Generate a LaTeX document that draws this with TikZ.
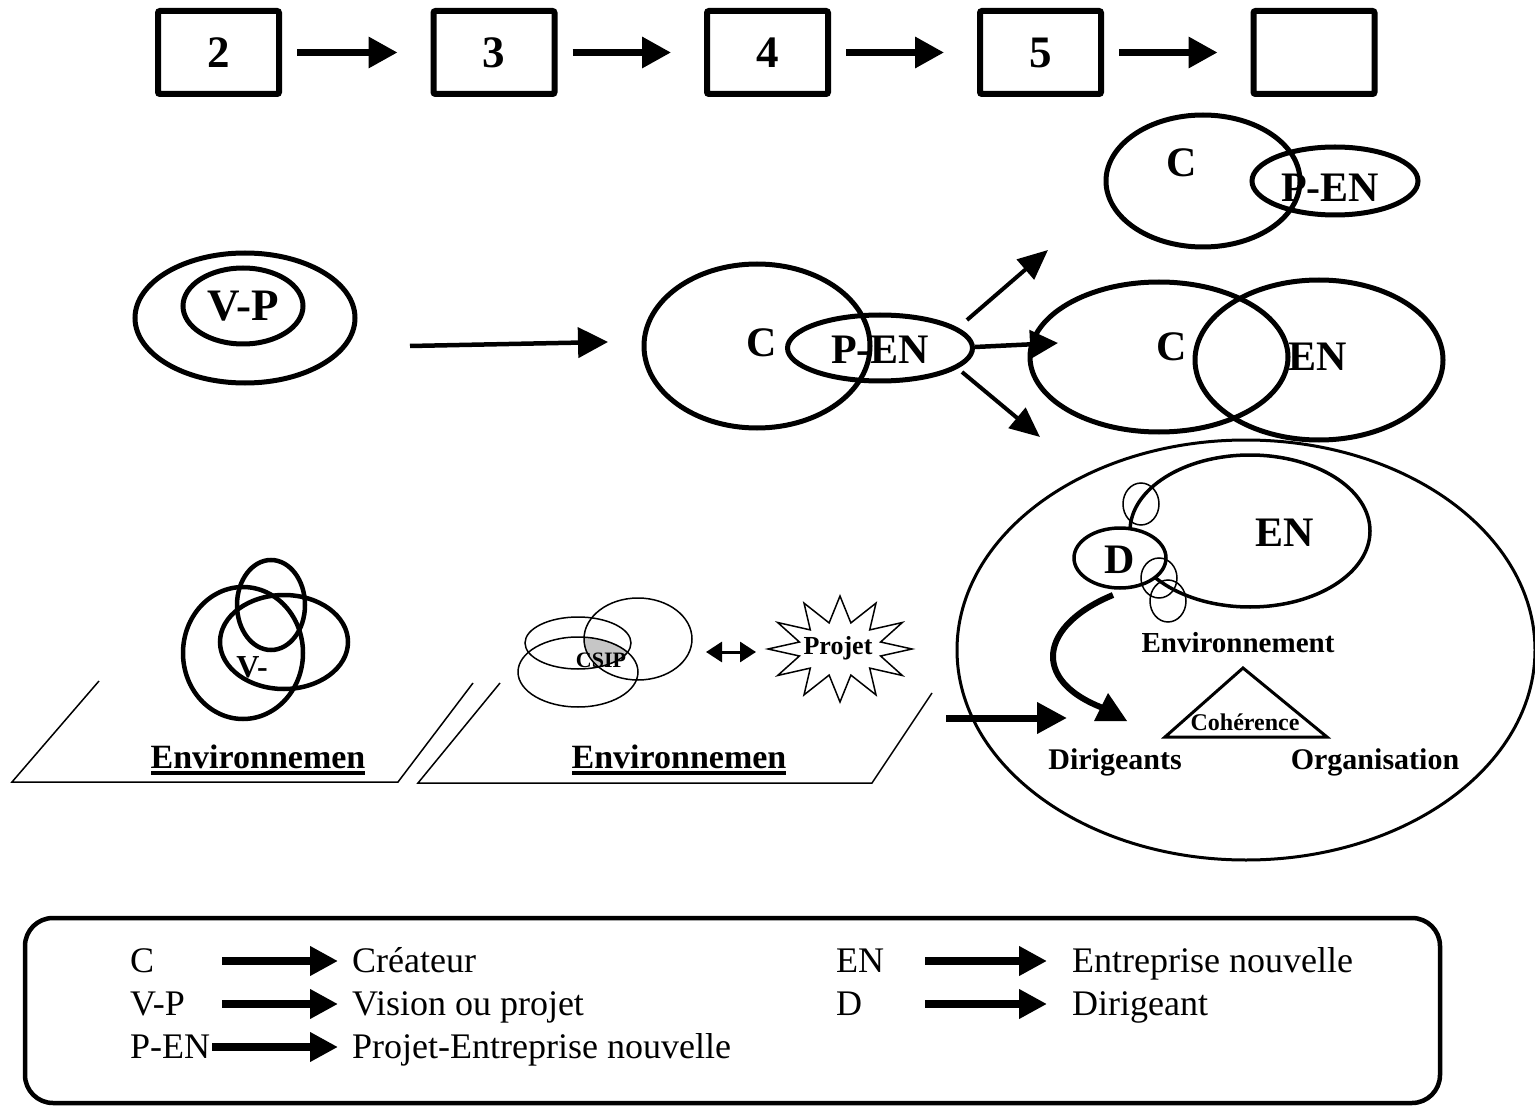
\documentclass[tikz,border=0pt]{standalone}
\usepackage{fontspec}
\setmainfont{Liberation Serif}
\usetikzlibrary{shapes.geometric,arrows.meta}
\begin{document}
\begin{tikzpicture}[x=1pt,y=-1pt,
  numbox/.style={draw,line width=6pt,rounded corners=2pt,minimum width=121pt,minimum height=83pt,inner sep=0pt,font=\fontsize{45}{45}\selectfont\bfseries},
  toparrow/.style={line width=6.5pt,-{Triangle[length=29pt,width=30pt]}},
  midarrow/.style={line width=4.5pt,-{Triangle[length=30pt,width=30pt]}},
  ovl/.style={draw,ellipse,line width=5pt,inner sep=0pt},
  medovl/.style={draw,ellipse,line width=3.5pt,inner sep=0pt},
  thinovl/.style={draw,ellipse,line width=1.5pt,inner sep=0pt},
  bigtxt/.style={font=\fontsize{42}{42}\selectfont\bfseries,inner sep=0pt},
  medtxt/.style={font=\fontsize{30}{30}\selectfont\bfseries,inner sep=0pt},
  legtext/.style={font=\fontsize{36}{36}\selectfont,inner sep=0pt,anchor=base west},
  legarrow/.style={line width=8pt,-{Triangle[length=28pt,width=28pt]}},
  thinline/.style={line width=1.5pt}
]
\useasboundingbox (0,0) rectangle (1535,1107);

% ---- top row
\node[numbox] (b2) at (218.5,52.5) {2};
\node[numbox] (b3) at (494,52.5) {3};
\node[numbox] (b4) at (767.5,52.5) {4};
\node[numbox] (b5) at (1040.5,52.5) {5};
\node[numbox] (b6) at (1314,52.5) {};
\foreach \a/\b in {b2/b3,b3/b4,b4/b5,b5/b6}
  \draw[toparrow,shorten <=15pt,shorten >=33pt] (\a) -- (\b);

% ---- second row, left
\node[ovl,minimum width=220pt,minimum height=130pt] (vpout) at (245,318) {};
\node[ovl,minimum width=120pt,minimum height=76pt,font=\fontsize{45}{45}\selectfont\bfseries] (vp) at (243,306) {V-P};
\coordinate (a1s) at (410,346);
\coordinate (a1e) at (608,342);
\draw[midarrow] (a1s) -- (a1e);

% ---- middle C / P-EN
\node[ovl,minimum width=226pt,minimum height=164pt] (c1) at (757,346) {};
\node[bigtxt] (c1t) at (762,343) {C};
\node[ovl,minimum width=185pt,minimum height=66pt] (pen1) at (880,348) {};
\node[bigtxt] (pen1t) at (880,350) {P-EN};

\coordinate (u1) at (967,320); \coordinate (u2) at (1048,250);
\coordinate (m1) at (975,347); \coordinate (m2) at (1058,343);
\coordinate (l1) at (962,372); \coordinate (l2) at (1040,437);
\draw[line width=4pt,-{Triangle[length=30pt,width=26pt]}] (u1) -- (u2);
\draw[line width=4.5pt,-{Triangle[length=28pt,width=28pt]}] (m1) -- (m2);
\draw[line width=4pt,-{Triangle[length=30pt,width=26pt]}] (l1) -- (l2);

% ---- top right
\node[ovl,minimum width=194pt,minimum height=132pt] (c2) at (1203,181) {};
\node[ovl,minimum width=166pt,minimum height=68pt] (pen2) at (1335,181) {};
\node[bigtxt] (c2t) at (1182,163) {C};
\node[bigtxt] (pen2t) at (1330,188) {P-EN};

% ---- middle right
\node[ovl,minimum width=258pt,minimum height=150pt] (c3) at (1159,357) {};
\node[ovl,minimum width=248pt,minimum height=160pt] (en3) at (1319,360) {};
\node[bigtxt] (c3t) at (1172,347) {C};
\node[bigtxt] (en3t) at (1318,357) {EN};

% ---- big ellipse
\node[draw,ellipse,line width=3pt,inner sep=0pt,minimum width=578pt,minimum height=420pt] (big) at (1246,650) {};
\node[medovl,minimum width=240pt,minimum height=152pt] (en4) at (1250,531) {};
\node[bigtxt] (en4t) at (1285,533) {EN};
\node[thinovl,minimum width=36pt,minimum height=42pt] (s1) at (1141,504) {};
\node[medovl,fill=white,minimum width=92pt,minimum height=60pt] (d) at (1120,558) {};
\node[bigtxt] (dt) at (1120,560) {D};
\node[thinovl,minimum width=36pt,minimum height=40pt] (s2) at (1159,578) {};
\node[thinovl,minimum width=36pt,minimum height=42pt] (s3) at (1168,601) {};
\node[font=\fontsize{29}{29}\selectfont\bfseries,inner sep=0pt] (envt) at (1238,643) {Environnement};
\draw[line width=3pt,line join=miter] (1165,737) -- (1243,668) -- (1327,737) -- cycle;
\node[font=\fontsize{24}{24}\selectfont\bfseries,inner sep=0pt] (coh) at (1245,722) {Cohérence};
\node[medtxt] (dir) at (1115,762) {Dirigeants};
\node[medtxt] (org) at (1375,762) {Organisation};
\coordinate (cs) at (1113,595);
\coordinate (ce) at (1103,708);
\draw[line width=6pt] (cs) .. controls (1040,625) and (1030,680) .. (ce);
\fill (1094,721) -- (1108,693) -- (1127,721) -- cycle;
\coordinate (ea) at (946,718);
\coordinate (eb) at (1067,718);
\draw[line width=7pt,-{Triangle[length=30pt,width=30pt]}] (ea) -- (eb);

% ---- bottom left plane 1
\draw[thinline] (99,681) -- (12,782) -- (398,782) -- (473,683);
\node[ovl,line width=4.5pt,minimum width=120pt,minimum height=132pt] (e1) at (243,653) {};
\node[ovl,line width=4.5pt,minimum width=68pt,minimum height=90pt] (e2) at (271,605) {};
\node[ovl,line width=4.5pt,minimum width=128pt,minimum height=94pt] (e3) at (284,642) {};
\node[font=\fontsize{32}{32}\selectfont\bfseries,inner sep=0pt] (vm) at (252,667) {V-};
\node[font=\fontsize{34}{34}\selectfont\bfseries,inner sep=0pt] (env1) at (258,757) {Environnemen};
\draw[line width=3.5pt] (151,773) -- (365,773);

% ---- bottom plane 2
\draw[thinline] (500,683) -- (418,783) -- (872,783) -- (932,693);
\begin{scope}
  \clip (578,643) ellipse [x radius=53pt,y radius=26pt];
  \clip (578,672) ellipse [x radius=60pt,y radius=35pt];
  \fill[gray!45] (638,639) ellipse [x radius=54pt,y radius=41pt];
\end{scope}
\node[thinovl,minimum width=106pt,minimum height=52pt] (ca) at (578,643) {};
\node[thinovl,minimum width=120pt,minimum height=70pt] (cb) at (578,672) {};
\node[thinovl,minimum width=108pt,minimum height=82pt] (cc) at (638,639) {};
\node[font=\fontsize{22}{22}\selectfont\bfseries,inner sep=0pt] (csip) at (601,660) {CSIP};
\draw[thinline] plot[samples at={0,15,...,345},variable=\t]
  ({840+ifthenelse(mod(\t,30)==0,72,42)*cos(\t)},{649+ifthenelse(mod(\t,30)==0,53,27)*sin(\t)}) -- cycle;
\node[font=\fontsize{26}{26}\selectfont\bfseries,inner sep=0pt] (proj) at (838,648) {Projet};
\coordinate (da) at (706,652);
\coordinate (db) at (756,652);
\draw[line width=3pt,{Triangle[length=16pt,width=20pt]}-{Triangle[length=16pt,width=20pt]}] (da) -- (db);
\node[font=\fontsize{34}{34}\selectfont\bfseries,inner sep=0pt] (env2) at (679,757) {Environnemen};
\draw[line width=3.5pt] (572,773) -- (786,773);

% ---- legend
\draw[line width=4.5pt,rounded corners=28pt] (25,918) rectangle (1440,1103);
\node[legtext] (kC) at (130,972) {C};
\node[legtext] (kVP) at (130,1015) {V-P};
\node[legtext] (kPEN) at (130,1058) {P-EN};
\node[legtext] (tC) at (352,972) {Créateur};
\node[legtext] (tVP) at (352,1015) {Vision ou projet};
\node[legtext] (tPEN) at (352,1058) {Projet-Entreprise nouvelle};
\node[legtext] (kEN) at (836,972) {EN};
\node[legtext] (kD) at (836,1015) {D};
\node[legtext] (tEN) at (1072,972) {Entreprise nouvelle};
\node[legtext] (tD) at (1072,1015) {Dirigeant};
\coordinate (p1) at (222,961); \coordinate (q1) at (338,961);
\coordinate (p2) at (222,1004); \coordinate (q2) at (338,1004);
\coordinate (p3) at (212,1047); \coordinate (q3) at (338,1047);
\coordinate (p4) at (925,961); \coordinate (q4) at (1047,961);
\coordinate (p5) at (925,1004); \coordinate (q5) at (1047,1004);
\foreach \a/\b in {p1/q1,p2/q2,p3/q3,p4/q4,p5/q5}
  \draw[legarrow] (\a) -- (\b);
\end{tikzpicture}
\end{document}
